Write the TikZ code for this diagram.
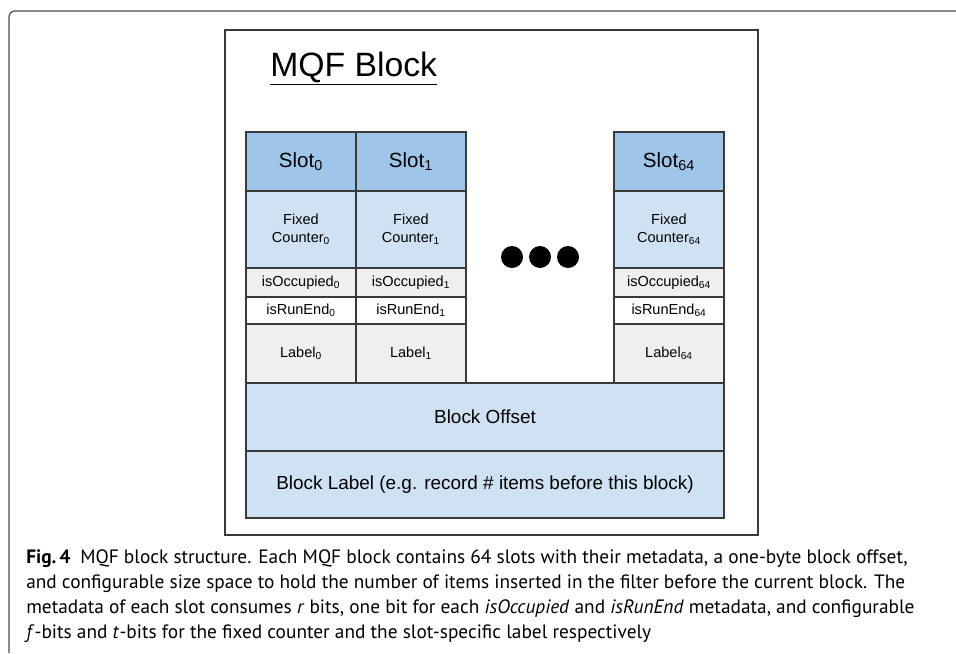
\documentclass[tikz,border=0pt]{standalone}
\usepackage{fontspec}
\setmainfont{Liberation Sans}
\newfontfamily\capfont{PT Sans}
\usetikzlibrary{positioning}
\definecolor{slotblue}{HTML}{9FC5E8}
\definecolor{cellblue}{HTML}{CFE2F3}
\definecolor{cellgray}{HTML}{EFEFEF}
\definecolor{rulegray}{HTML}{3A3A3A}
\tikzset{
  cell/.style={draw=rulegray, line width=0.9pt, inner sep=0pt, outer sep=0pt,
    minimum width=82.5pt, align=center, font=\fontsize{10.9}{13.5}\selectfont},
  slothead/.style={cell, fill=slotblue, minimum height=44.25pt,
    font=\fontsize{15.4}{18}\selectfont},
  fixedctr/.style={cell, fill=cellblue, minimum height=57.75pt},
  occbit/.style={cell, fill=cellgray, minimum height=21.75pt},
  runbit/.style={cell, fill=white, minimum height=20.25pt},
  slotlabel/.style={cell, fill=cellgray, minimum height=44.25pt},
  blockrow/.style={cell, fill=cellblue, minimum width=358.5pt,
    font=\fontsize{14.2}{17}\selectfont},
  dot/.style={circle, fill=black, inner sep=0pt, minimum size=16.5pt},
}
\begin{document}
\begin{tikzpicture}[x=0.75pt, y=-0.75pt]
  \useasboundingbox (0,0) rectangle (956,653);
  % page frame and figure box
  \draw[gray!60!black, line width=0.9pt, rounded corners=4.5pt] (956,11) -- (9,11) -- (9,653);
  \draw[rulegray, line width=1.1pt] (225,30) rectangle (758,535);
  \node[anchor=base west, inner sep=0pt, font=\fontsize{25.3}{30}\selectfont] (title) at (270,76) {\underline{MQF Block}};

  % slot 0
  \node[slothead, anchor=north west] (slot0) at (246,132) {Slot\textsubscript{0}};
  \node[fixedctr, below=0pt of slot0] (ctr0) {Fixed\\Counter\textsubscript{0}};
  \node[occbit, below=0pt of ctr0] (occ0) {isOccupied\textsubscript{0}};
  \node[runbit, below=0pt of occ0] (run0) {isRunEnd\textsubscript{0}};
  \node[slotlabel, below=0pt of run0] (lab0) {Label\textsubscript{0}};

  % slot 1
  \node[slothead, right=0pt of slot0] (slot1) {Slot\textsubscript{1}};
  \node[fixedctr, below=0pt of slot1] (ctr1) {Fixed\\Counter\textsubscript{1}};
  \node[occbit, below=0pt of ctr1] (occ1) {isOccupied\textsubscript{1}};
  \node[runbit, below=0pt of occ1] (run1) {isRunEnd\textsubscript{1}};
  \node[slotlabel, below=0pt of run1] (lab1) {Label\textsubscript{1}};

  % slot 64
  \node[slothead, anchor=north west] (slot64) at (614,132) {Slot\textsubscript{64}};
  \node[fixedctr, below=0pt of slot64] (ctr64) {Fixed\\Counter\textsubscript{64}};
  \node[occbit, below=0pt of ctr64] (occ64) {isOccupied\textsubscript{64}};
  \node[runbit, below=0pt of occ64] (run64) {isRunEnd\textsubscript{64}};
  \node[slotlabel, below=0pt of run64] (lab64) {Label\textsubscript{64}};

  % skipped slots
  \node[dot] (dot1) at (512,257) {};
  \node[dot] (dot2) at (540,257) {};
  \node[dot] (dot3) at (568,257) {};

  % block fields
  \node[blockrow, minimum height=51pt, below=0pt of lab0.south west, anchor=north west] (offset) {Block Offset};
  \node[blockrow, minimum height=50.25pt, below=0pt of offset] (blocklabel) {Block Label (e.g. record \# items before this block)};

  % caption (base anchor sits on its last line)
  \node[anchor=base west, inner sep=0pt, align=left, font=\capfont\fontsize{14.5}{18.75}\selectfont] (caption) at (26,638)
    {\textbf{Fig.\,4}\enspace MQF block structure. Each MQF block contains 64 slots with their metadata, a one-byte block offset,\\
     and configurable size space to hold the number of items inserted in the filter before the current block. The\\
     metadata of each slot consumes \textit{r} bits, one bit for each \textit{isOccupied} and \textit{isRunEnd} metadata, and configurable\\
     \textit{f}-bits and \textit{t}-bits for the fixed counter and the slot-specific label respectively};
\end{tikzpicture}
\end{document}
